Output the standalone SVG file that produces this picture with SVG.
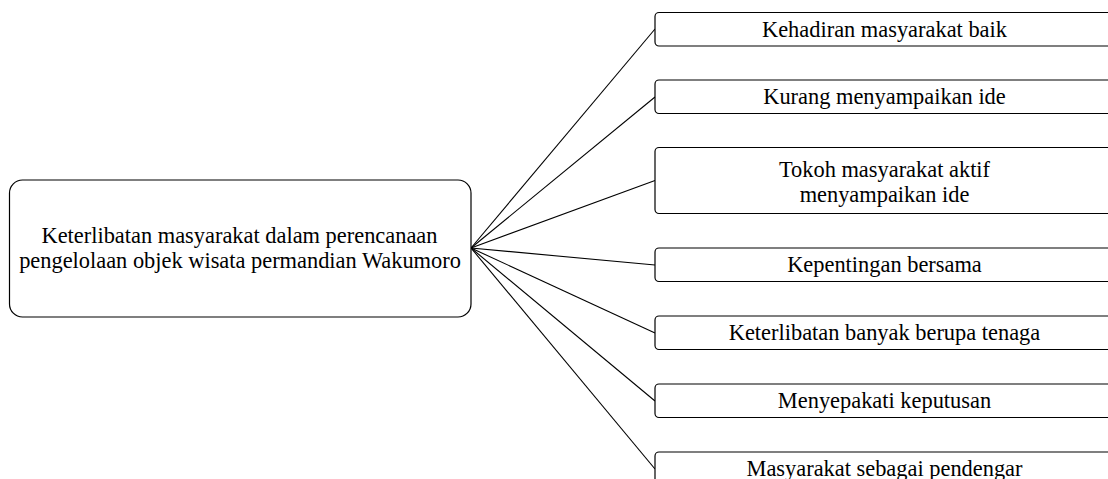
<svg xmlns="http://www.w3.org/2000/svg" width="1108" height="479" viewBox="0 0 1108 479">
<style>
.box{fill:#fff;stroke:#000;stroke-width:1.2}
.conn line{stroke:#000;stroke-width:1.1}
text{font-family:"Liberation Serif","Times New Roman",serif;font-size:22.4px;fill:#000;text-anchor:middle}
</style>
<rect width="1108" height="479" fill="#fff"/>
<g id="connectors" class="conn">
<line x1="471" y1="248" x2="655" y2="29"/>
<line x1="471" y1="248" x2="655" y2="97"/>
<line x1="471" y1="248" x2="655" y2="180.5"/>
<line x1="471" y1="248" x2="655" y2="265"/>
<line x1="471" y1="248" x2="655" y2="333"/>
<line x1="471" y1="248" x2="655" y2="401"/>
<line x1="471" y1="248" x2="655" y2="469"/>
</g>
<g id="node-main">
<rect class="box" x="9.5" y="180" width="461.5" height="137" rx="13"/>
<text x="239.5" y="243">Keterlibatan masyarakat dalam perencanaan</text>
<text x="240" y="268">pengelolaan objek wisata permandian Wakumoro</text>
</g>
<g id="node-1">
<rect class="box" x="655" y="12.5" width="459" height="33.5" rx="4"/>
<text x="884.5" y="36.5">Kehadiran masyarakat baik</text>
</g>
<g id="node-2">
<rect class="box" x="655" y="80" width="459" height="33.5" rx="4"/>
<text x="884.5" y="104">Kurang menyampaikan ide</text>
</g>
<g id="node-3">
<rect class="box" x="655" y="147.5" width="459" height="66" rx="4"/>
<text x="884.5" y="176.7">Tokoh masyarakat aktif</text>
<text x="884.5" y="201.7">menyampaikan ide</text>
</g>
<g id="node-4">
<rect class="box" x="655" y="248" width="459" height="33.5" rx="4"/>
<text x="884.5" y="272">Kepentingan bersama</text>
</g>
<g id="node-5">
<rect class="box" x="655" y="316" width="459" height="33.5" rx="4"/>
<text x="884.5" y="340">Keterlibatan banyak berupa tenaga</text>
</g>
<g id="node-6">
<rect class="box" x="655" y="384" width="459" height="33.5" rx="4"/>
<text x="884.5" y="408">Menyepakati keputusan</text>
</g>
<g id="node-7">
<rect class="box" x="655" y="452" width="459" height="33.5" rx="4"/>
<text x="884.5" y="476">Masyarakat sebagai pendengar</text>
</g>
</svg>
